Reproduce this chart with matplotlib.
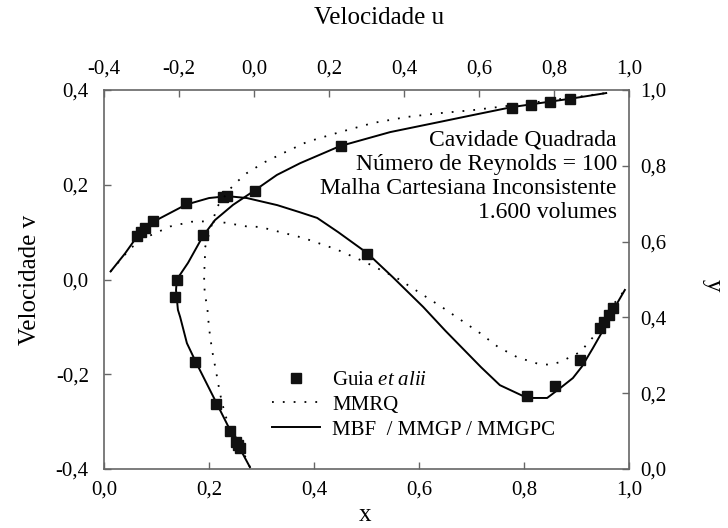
import matplotlib
matplotlib.use("Agg")
import matplotlib.pyplot as plt
from matplotlib.ticker import FuncFormatter, MultipleLocator
from matplotlib.lines import Line2D

plt.rcParams["font.family"] = ["Liberation Serif", "DejaVu Serif"]
plt.rcParams["mathtext.fontset"] = "custom"
plt.rcParams["mathtext.it"] = "Liberation Serif:italic"
plt.rcParams["mathtext.rm"] = "Liberation Serif"

# --- Ghia et al. (Re = 100) reference points ---
ghia_x = [0.0625, 0.0703, 0.0781, 0.0938, 0.1563, 0.2266, 0.2344, 0.5000,
          0.8047, 0.8594, 0.9063, 0.9453, 0.9531, 0.9609, 0.9688]
ghia_v = [0.09233, 0.10091, 0.10890, 0.12317, 0.16077, 0.17507, 0.17527, 0.05454,
          -0.24533, -0.22445, -0.16914, -0.10313, -0.08864, -0.07391, -0.05906]
ghia_y = [0.0547, 0.0625, 0.0703, 0.1016, 0.1719, 0.2813, 0.4531, 0.5000,
          0.6172, 0.7344, 0.8516, 0.9531, 0.9609, 0.9688, 0.9766]
ghia_u = [-0.03717, -0.04192, -0.04775, -0.06434, -0.10150, -0.15662, -0.21090, -0.20581,
          -0.13641, 0.00332, 0.23151, 0.68717, 0.73722, 0.78871, 0.84123]

# --- MBF / MMGP / MMGPC (solid) ---
mbf_x = [0.0125, 0.04, 0.0625, 0.094, 0.156, 0.2, 0.235, 0.272, 0.33, 0.373, 0.406,
         0.446, 0.501, 0.55, 0.608, 0.65, 0.718, 0.754, 0.806, 0.844, 0.869, 0.893,
         0.91, 0.931, 0.949, 0.97, 0.992]
mbf_v = [0.017, 0.055, 0.09, 0.122, 0.158, 0.172, 0.176, 0.172, 0.157, 0.142, 0.13,
         0.1, 0.056, 0.005, -0.058, -0.108, -0.185, -0.223, -0.25, -0.25, -0.229, -0.208,
         -0.184, -0.145, -0.11, -0.064, -0.022]
mbf_y = [0.005, 0.04, 0.06, 0.103, 0.172, 0.282, 0.332, 0.401, 0.42, 0.472, 0.5,
         0.544, 0.615, 0.657, 0.697, 0.736, 0.776, 0.807, 0.852, 0.889, 0.916, 0.934,
         0.955, 0.977, 0.992]
mbf_u = [-0.011, -0.03, -0.042, -0.064, -0.099, -0.155, -0.179, -0.197, -0.203, -0.208, -0.206,
         -0.176, -0.136, -0.104, -0.056, 0.003, 0.061, 0.123, 0.229, 0.363, 0.496, 0.584,
         0.688, 0.843, 0.939]

# --- MMRQ (dotted) ---
mmrq_x = [0.0125, 0.051, 0.088, 0.126, 0.167, 0.2, 0.23, 0.272, 0.297, 0.379, 0.442,
          0.497, 0.558, 0.611, 0.646, 0.716, 0.75, 0.787, 0.827, 0.85, 0.869, 0.907,
          0.935, 0.954, 0.992]
mmrq_v = [0.017, 0.067, 0.093, 0.112, 0.122, 0.123, 0.12, 0.112, 0.111, 0.088, 0.064,
          0.037, 0.003, -0.035, -0.06, -0.113, -0.142, -0.164, -0.178, -0.18, -0.174, -0.153,
          -0.117, -0.075, -0.022]
mmrq_y = [0.005, 0.063, 0.111, 0.142, 0.2, 0.256, 0.314, 0.372, 0.43, 0.459, 0.491,
          0.52, 0.546, 0.583, 0.691, 0.739, 0.76, 0.781, 0.81, 0.836, 0.863, 0.889,
          0.913, 0.929, 0.939, 0.947, 0.958, 0.976, 0.992]
mmrq_u = [-0.011, -0.037, -0.064, -0.077, -0.091, -0.101, -0.112, -0.12, -0.125, -0.131, -0.133,
          -0.133, -0.131, -0.131, -0.099, -0.064, -0.043, -0.019, 0.029, 0.083, 0.141, 0.229,
          0.317, 0.408, 0.496, 0.584, 0.675, 0.816, 0.939]

info_lines = ["Cavidade Quadrada", "Número de Reynolds = 100",
              "Malha Cartesiana Inconsistente", "1.600 volumes"]

FS = 15        # ticks / legend
FS_BOX = 17    # info block
FS_LAB = 18    # axis titles
SPINE = "#666666"


def comma(v, _):
    return f"{v:.1f}".replace(".", ",")


fig = plt.figure(figsize=(7.28, 5.28), dpi=100)
pos = [0.1429, 0.1117, 0.7212, 0.7178]
ax = fig.add_axes(pos)
ax2 = fig.add_axes(pos, frameon=False)

# v(x) on bottom/left axes
ax.plot(mmrq_x, mmrq_v, color="black", lw=1.3, ls=(0, (1, 5)))
ax.plot(mbf_x, mbf_v, color="black", lw=1.4)
ax.plot(ghia_x, ghia_v, ls="none", marker="s", ms=6.5, color="#111111")
ax.set_xlim(0, 1)
ax.set_ylim(-0.4, 0.4)

# u(y) on top/right axes
ax2.plot(mmrq_u, mmrq_y, color="black", lw=1.3, ls=(0, (1, 5)))
ax2.plot(mbf_u, mbf_y, color="black", lw=1.4)
ax2.plot(ghia_u, ghia_y, ls="none", marker="s", ms=6.5, color="#111111")
ax2.set_xlim(-0.4, 1.0)
ax2.set_ylim(0, 1)
ax2.xaxis.tick_top()
ax2.yaxis.tick_right()
ax2.xaxis.set_label_position("top")
ax2.yaxis.set_label_position("right")

for a in (ax, ax2):
    a.xaxis.set_major_locator(MultipleLocator(0.2))
    a.yaxis.set_major_locator(MultipleLocator(0.2))
    a.xaxis.set_major_formatter(FuncFormatter(comma))
    a.yaxis.set_major_formatter(FuncFormatter(comma))
    a.tick_params(direction="in", length=5, width=1, color=SPINE,
                  labelsize=FS, pad=8)
ax.tick_params(top=False, right=False)
ax.tick_params(axis="y", pad=11)
for s in ax.spines.values():
    s.set_color(SPINE)
    s.set_linewidth(1.2)

ax.set_xlabel("x", fontsize=FS_LAB, va="center")
ax.xaxis.set_label_coords(0.497, -0.12)
ax.set_ylabel("Velocidade v", fontsize=FS_LAB, va="center")
ax.yaxis.set_label_coords(-0.141, 0.5)
ax2.set_xlabel("Velocidade u", fontsize=FS_LAB, va="center")
ax2.xaxis.set_label_coords(0.524, 1.19)
ax2.set_ylabel("y", fontsize=FS_LAB, rotation=270, va="center")
ax2.yaxis.set_label_coords(1.16, 0.486)

for i, line in enumerate(info_lines):
    ax.text(0.977, 0.868 - i * 0.0635, line, transform=ax.transAxes,
            ha="right", va="center", fontsize=FS_BOX)

handles = [
    Line2D([], [], ls="none", marker="s", ms=6.5, color="#111111"),
    Line2D([], [], color="black", lw=1.3, ls=(0, (1, 5))),
    Line2D([], [], color="black", lw=1.4),
]
labels = ["Guia $\\it{et\\ alii}$", "MMRQ", "MBF  / MMGP / MMGPC"]
ax.legend(handles, labels, loc="center left", bbox_to_anchor=(0.32, 0.169),
          frameon=False, fontsize=FS, borderpad=0, borderaxespad=0,
          handlelength=2.3, handletextpad=0.6, labelspacing=0.25, numpoints=1)

fig.savefig("out.png", dpi=100)
